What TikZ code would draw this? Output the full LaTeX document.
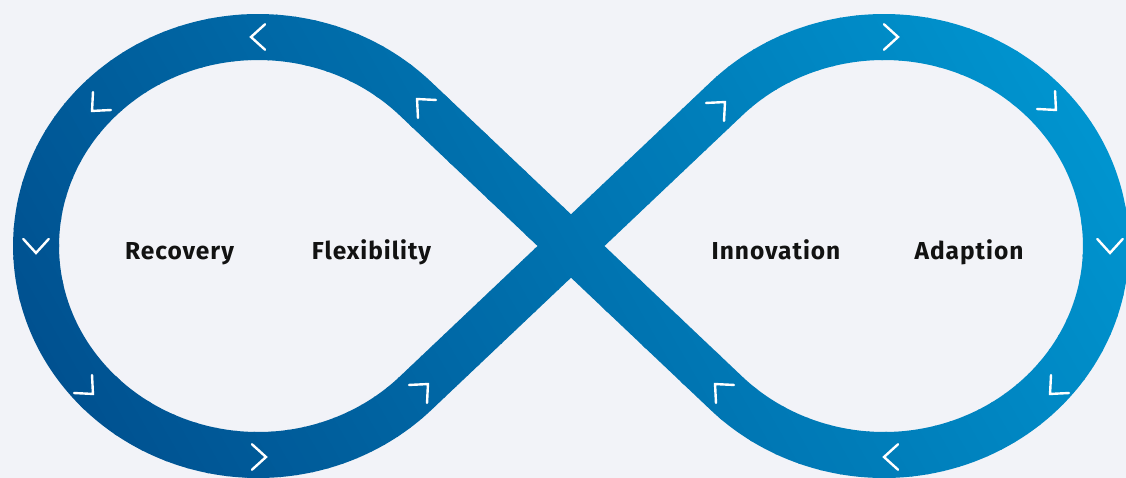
\documentclass[tikz,border=0pt]{standalone}
\usepackage{fontspec}
\setmainfont{Fira Sans}
\newfontfamily\labelfont[LetterSpace=4]{Fira Sans}
\definecolor{bgcolor}{RGB}{242,243,248}
\definecolor{banddark}{RGB}{0,74,138}
\definecolor{bandlight}{RGB}{0,155,213}
\tikzset{
band/.style={line width=46pt, line join=round},
chevron line/.style={white, line width=2.4pt, line cap=round, line join=miter},
chevron/.pic={\draw[chevron line] (-7,-12.7) -- (7,0) -- (-7,12.7);},
loop label/.style={anchor=base, inner sep=0pt, text=black!93, font=\labelfont\bfseries\fontsize{24.5}{28}\selectfont},
}

\begin{document}
\begin{tikzpicture}[x=1pt, y=1pt]
        \fill[bgcolor] (0,0) rectangle (1126,478);
        \useasboundingbox (0,0) rectangle (1126,478);
        
        % tangent points of the two loops and the crossing
        \coordinate (cross) at (571, 232);
        \coordinate (lu) at (415.5, 379.3);
        \coordinate (ru) at (726.5, 379.3);
        
        % the band, in strips along the gradient
        \foreach \i in {0,...,79}{
            \pgfmathsetmacro\pct{100*(\i+0.5)/80}
            \begin{scope}
                \clip[rotate=30] (\i*15.2-0.5, -1500) rectangle +(16.5, 3000);
                \draw[band, bandlight!\pct!banddark] (lu)
                    arc[start angle=44.82, end angle=315.18, x radius=222, y radius=209]
                    -- (ru)
                    arc[start angle=135.18, end angle=-135.18, x radius=222, y radius=209]
                    -- cycle;
            \end{scope}
        }
        
        % direction marks
        \foreach \px/\py/\ang in {258/441/180, 97/372/225, 36/232/270, 88/89/315, 259/21/0,
                                  423/89/45, 422/374/135,
                                  720/371/45, 891/441/0, 1051/373/315, 1110/232/270,
                                  1055/89/225, 891/21/180, 720/89/135}
            \pic[rotate=\ang] at (\px,\py) {chevron};
        
        % labels
        \node[loop label] (recovery) at (179.5, 218) {Recovery};
        \node[loop label] (flexibility) at (371.5, 218) {Flexibility};
        \node[loop label] (innovation) at (776, 218) {Innovation};
        \node[loop label] (adaption) at (969, 218) {Adaption};
    \end{tikzpicture}
\end{document}
